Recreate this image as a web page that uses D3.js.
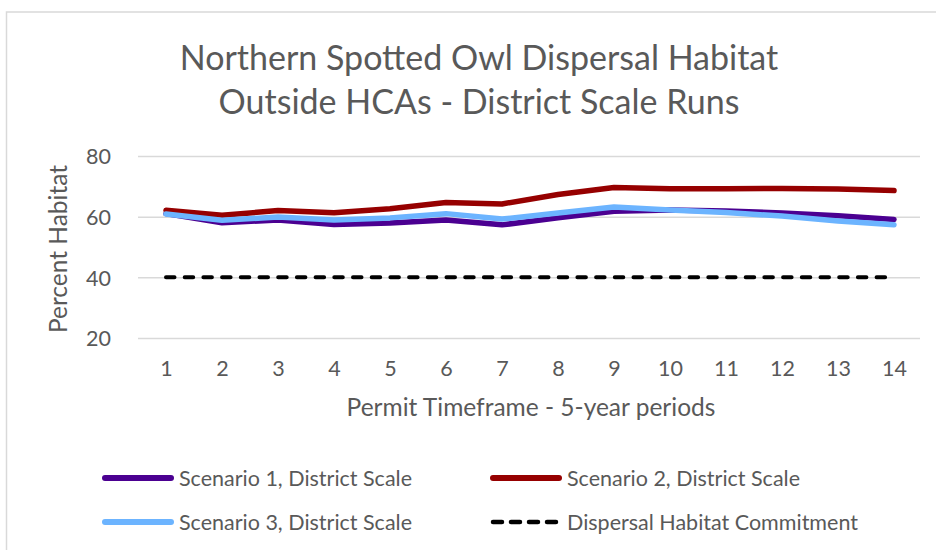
<!DOCTYPE html>
<html>
<head>
<meta charset="utf-8">
<script src="https://cdn.jsdelivr.net/npm/d3@7"></script>
<style>
  body { margin: 0; background: #fff; }
  text { font-family: Lato, "Open Sans", sans-serif; fill: #595959; }
</style>
</head>
<body>
<div id="chart"></div>
<script>
// periods and percent habitat
var periods = [1, 2, 3, 4, 5, 6, 7, 8, 9, 10, 11, 12, 13, 14];
var scenario1 = [61.0, 58.0, 58.9, 57.4, 57.9, 58.9, 57.3, 59.6, 61.8, 62.2, 61.9, 61.2, 60.3, 59.1];
var scenario2 = [62.1, 60.5, 62.0, 61.3, 62.6, 64.7, 64.2, 67.3, 69.6, 69.2, 69.2, 69.3, 69.1, 68.6];
var scenario3 = [60.9, 58.8, 59.9, 58.9, 59.6, 61.0, 59.2, 61.2, 63.2, 62.2, 61.4, 60.2, 58.6, 57.3];
var commitment = [40, 40, 40, 40, 40, 40, 40, 40, 40, 40, 40, 40, 40, 40];
var yTicks = [20, 40, 60, 80];
var seriesNames = ["Scenario 1, District Scale", "Scenario 2, District Scale",
                   "Scenario 3, District Scale", "Dispersal Habitat Commitment"];

var width = 936, height = 550;

var svg = d3.select('#chart').append('svg')
              .attr('width', width)
              .attr('height', height);

// chart border (runs off the right and bottom edges)
svg.append('rect')
   .attr('x', 6.5).attr('y', 12)
   .attr('width', 960).attr('height', 600)
   .style('fill', 'none')
   .style('stroke', '#d9d9d9')
   .style('stroke-width', 1.5);

var x = d3.scalePoint().domain(periods).range([166, 894]);
var y = d3.scaleLinear().domain([20, 80]).range([338, 156]);

// gridlines
svg.append('g')
   .attr('transform', 'translate(138,0)')
   .call(d3.axisLeft(y).tickValues(yTicks).tickSize(-782).tickFormat(''))
   .call(function(g) {
     g.select('.domain').remove();
     g.selectAll('line').style('stroke', '#d9d9d9').style('stroke-width', 1.5);
   });

// y tick labels
svg.append('g')
   .attr('transform', 'translate(111,0)')
   .call(d3.axisLeft(y).tickValues(yTicks).tickSize(0).tickPadding(0))
   .call(function(g) {
     g.select('.domain').remove();
     g.selectAll('text').style('font-size', '21.5px').attr('dy', '0.36em');
   });

// x tick labels
svg.append('g')
   .attr('transform', 'translate(0,361)')
   .call(d3.axisBottom(x).tickSize(0).tickPadding(0))
   .call(function(g) {
     g.select('.domain').remove();
     g.selectAll('text').style('font-size', '21.5px').attr('dy', '0.71em');
   });

var line = d3.line()
             .x(function(d, i) { return x(periods[i]); })
             .y(function(d) { return y(d); });

svg.append('path').datum(commitment)
   .attr('d', line)
   .style('fill', 'none').style('stroke', '#000')
   .style('stroke-width', 4).style('stroke-dasharray', '8.5,10.2')
   .style('stroke-linecap', 'round');

var series = [
  { values: scenario1, color: '#4b0091' },
  { values: scenario2, color: '#960000' },
  { values: scenario3, color: '#6cb4ff' }
];

series.forEach(function(s) {
  svg.append('path').datum(s.values)
     .attr('d', line)
     .style('fill', 'none').style('stroke', s.color)
     .style('stroke-width', 5.5)
     .style('stroke-linecap', 'round')
     .style('stroke-linejoin', 'round');
});

// titles
svg.append('text').text('Northern Spotted Owl Dispersal Habitat')
   .attr('x', 479).attr('y', 70).attr('text-anchor', 'middle')
   .style('font-size', '34px');
svg.append('text').text('Outside HCAs - District Scale Runs')
   .attr('x', 479).attr('y', 114).attr('text-anchor', 'middle')
   .style('font-size', '34px');

svg.append('text').text('Permit Timeframe - 5-year periods')
   .attr('x', 531).attr('y', 416).attr('text-anchor', 'middle')
   .style('font-size', '24.5px');

svg.append('text').text('Percent Habitat')
   .attr('transform', 'translate(67,249) rotate(-90)')
   .attr('text-anchor', 'middle')
   .style('font-size', '24.5px');

// legend
var legendPos = [[102, 478], [490, 478], [102, 522], [490, 522]];
var legendStyle = [
  { color: '#4b0091', w: 6, dash: null },
  { color: '#960000', w: 6, dash: null },
  { color: '#6cb4ff', w: 6, dash: null },
  { color: '#000', w: 4.5, dash: '9,9' }
];

var legend = svg.selectAll('.legend')
                .data(seriesNames).enter()
                .append('g')
                .attr('class', 'legend')
                .attr('transform', function(d, i) {
                  return 'translate(' + legendPos[i][0] + ',' + legendPos[i][1] + ')';
                });

legend.append('line')
      .attr('x1', 3).attr('x2', function(d, i) { return i == 3 ? 67 : 69; })
      .attr('y1', 0).attr('y2', 0)
      .style('stroke', function(d, i) { return legendStyle[i].color; })
      .style('stroke-width', function(d, i) { return legendStyle[i].w; })
      .style('stroke-dasharray', function(d, i) { return legendStyle[i].dash; })
      .style('stroke-linecap', 'round');

legend.append('text')
      .text(function(d) { return d; })
      .attr('x', 77).attr('y', 0).attr('dy', '0.36em')
      .style('font-size', '21.5px');
</script>
</body>
</html>
